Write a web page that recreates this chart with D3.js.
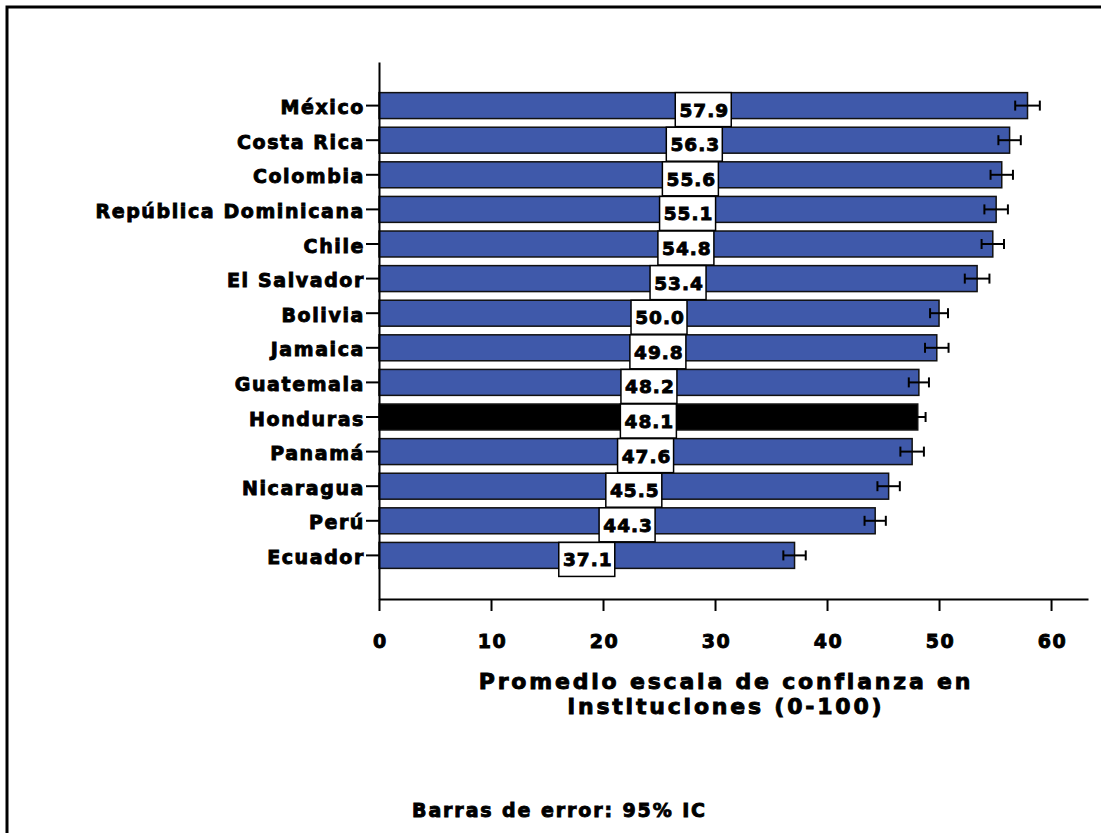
<!DOCTYPE html>
<html>
<head>
<meta charset="utf-8">
<script src="https://cdn.jsdelivr.net/npm/d3@7"></script>
<style>
  body { margin: 0; background: #fff; }
  text { font-family: "DejaVu Sans", "Liberation Sans", sans-serif; font-weight: bold;
         fill: #000; stroke: #000; stroke-width: 0.9px; letter-spacing: 1.6px; }
</style>
</head>
<body>
<div id="chart"></div>
<script>
// confianza en instituciones - barras horizontales con IC 95%
var paises = ["México", "Costa Rica", "Colombia", "República Dominicana", "Chile", "El Salvador",
              "Bolivia", "Jamaica", "Guatemala", "Honduras", "Panamá", "Nicaragua", "Perú", "Ecuador"];
var promedios = [57.9, 56.3, 55.6, 55.1, 54.8, 53.4, 50.0, 49.8, 48.2, 48.1, 47.6, 45.5, 44.3, 37.1];
var errores = [1.1, 1.0, 1.0, 1.05, 1.0, 1.1, 0.8, 1.05, 0.9, 0.7, 1.05, 1.0, 0.95, 1.0];
var destacado = "Honduras";
var xTicks = [0, 10, 20, 30, 40, 50, 60];

var width = 1101,
    height = 833;

var svg = d3.select("#chart").append("svg")
    .attr("width", width)
    .attr("height", height);

// marco (solo arriba e izquierda visibles)
svg.append("path")
    .attr("d", "M7," + height + "V7H" + width)
    .attr("fill", "none")
    .attr("stroke", "#000")
    .attr("stroke-width", 3);

var x = d3.scaleLinear()
    .domain([0, 63.3])
    .range([379, 1088]);

var y = d3.scaleBand()
    .domain(paises)
    .range([62, 599])
    .paddingInner(0.25)
    .paddingOuter(0.885);

var data = paises.map(function(p, i) {
    return { pais: p, valor: promedios[i], err: errores[i] };
});

// barras
svg.selectAll("rect.bar")
    .data(data)
    .enter().append("rect")
    .attr("class", "bar")
    .attr("x", x(0))
    .attr("y", d => y(d.pais))
    .attr("width", d => x(d.valor) - x(0))
    .attr("height", y.bandwidth())
    .attr("fill", d => d.pais == destacado ? "#000" : "#3f59aa")
    .attr("stroke", "#111")
    .attr("stroke-width", 1.5);

// barras de error
var eb = svg.selectAll("g.err")
    .data(data)
    .enter().append("g")
    .attr("class", "err")
    .attr("stroke", "#000")
    .attr("stroke-width", 2);
eb.append("line")
    .attr("x1", d => x(d.valor - d.err))
    .attr("x2", d => x(d.valor + d.err))
    .attr("y1", d => y(d.pais) + y.bandwidth() / 2)
    .attr("y2", d => y(d.pais) + y.bandwidth() / 2);
eb.append("line")
    .attr("x1", d => x(d.valor - d.err))
    .attr("x2", d => x(d.valor - d.err))
    .attr("y1", d => y(d.pais) + y.bandwidth() / 2 - 5)
    .attr("y2", d => y(d.pais) + y.bandwidth() / 2 + 5);
eb.append("line")
    .attr("x1", d => x(d.valor + d.err))
    .attr("x2", d => x(d.valor + d.err))
    .attr("y1", d => y(d.pais) + y.bandwidth() / 2 - 5)
    .attr("y2", d => y(d.pais) + y.bandwidth() / 2 + 5);

// etiquetas de valor en cajas blancas
var lab = svg.selectAll("g.lab")
    .data(data)
    .enter().append("g")
    .attr("class", "lab")
    .attr("transform", d => "translate(" + x(d.valor / 2) + "," + y(d.pais) + ")");
lab.append("rect")
    .attr("x", -28)
    .attr("y", 0)
    .attr("width", 56)
    .attr("height", 34)
    .attr("fill", "#fff")
    .attr("stroke", "#000")
    .attr("stroke-width", 1.5);
lab.append("text")
    .attr("x", 1)
    .attr("y", 24)
    .attr("text-anchor", "middle")
    .attr("font-size", 18.5)
    .style("letter-spacing", "1px")
    .text(d => d.valor.toFixed(1));

// eje y
var yAxis = svg.append("g")
    .attr("transform", "translate(" + x(0) + ",0)")
    .call(d3.axisLeft(y).tickSize(13).tickPadding(1).tickSizeOuter(0));
yAxis.select(".domain").attr("stroke-width", 2);
yAxis.selectAll(".tick line").attr("stroke-width", 2);
yAxis.selectAll(".tick text")
    .attr("font-size", 19)
    .attr("dy", "0.45em")
    .style("font-family", "DejaVu Sans")
    .style("font-weight", "bold");

// eje x
var xAxis = svg.append("g")
    .attr("transform", "translate(0," + 599 + ")")
    .call(d3.axisBottom(x).tickValues(xTicks).tickSize(12).tickPadding(24).tickSizeOuter(0));
xAxis.select(".domain").attr("stroke-width", 2);
xAxis.selectAll(".tick line").attr("stroke-width", 2);
xAxis.selectAll(".tick text")
    .attr("font-size", 19)
    .attr("dx", "1px")
    .style("font-family", "DejaVu Sans")
    .style("font-weight", "bold");

// título del eje x
svg.append("text")
    .attr("x", 726)
    .attr("y", 689)
    .attr("text-anchor", "middle")
    .attr("font-size", 22)
    .style("letter-spacing", "2.8px")
    .text("Promedio escala de confianza en");
svg.append("text")
    .attr("x", 726)
    .attr("y", 714)
    .attr("text-anchor", "middle")
    .attr("font-size", 22)
    .style("letter-spacing", "2.8px")
    .text("instituciones (0-100)");

// nota
svg.append("text")
    .attr("x", 412)
    .attr("y", 817)
    .attr("font-size", 19)
    .style("letter-spacing", "1.9px")
    .text("Barras de error: 95% IC");
</script>
</body>
</html>
